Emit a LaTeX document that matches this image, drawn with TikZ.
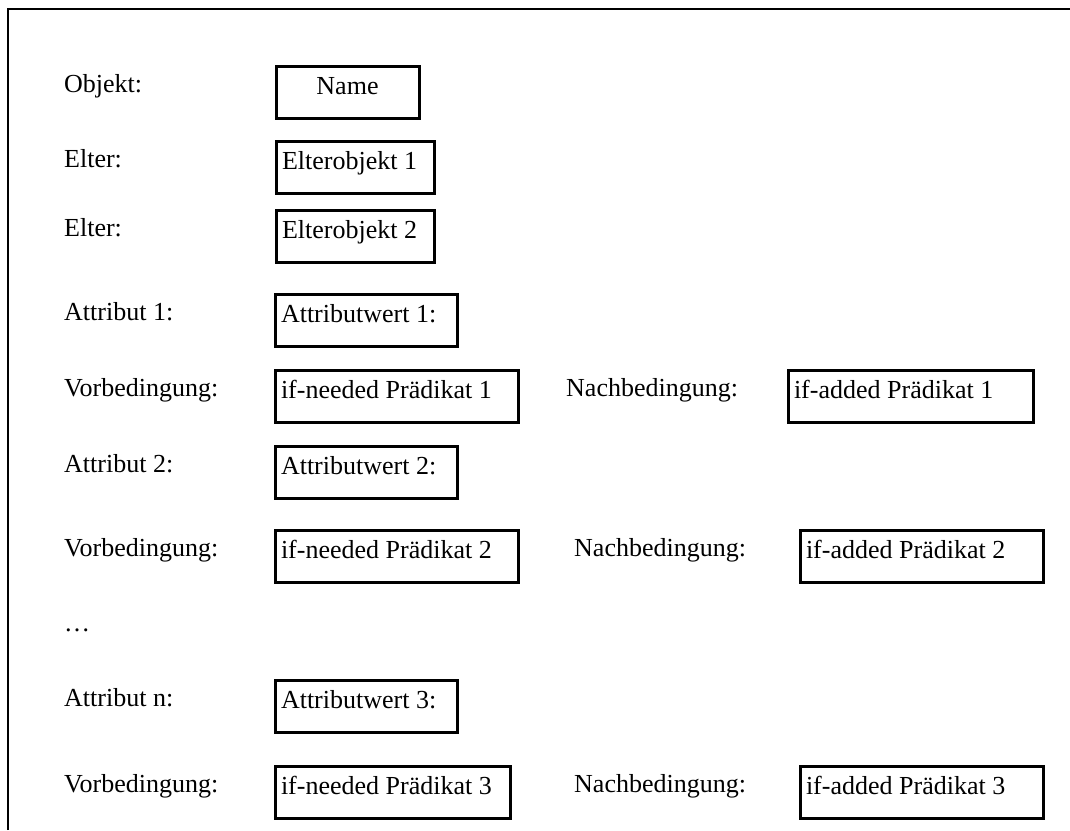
\documentclass[tikz,border=0pt]{standalone}
\usepackage{fontspec}
\setmainfont{Liberation Serif}
\begin{document}
\begin{tikzpicture}[x=1pt,y=-1pt,
  every node/.style={font=\fontsize{26}{30}\selectfont},
  lbl/.style={anchor=base west, inner sep=0pt},
  slot/.style={draw, line width=3pt, anchor=north west, inner xsep=6pt, inner ysep=0pt,
    minimum height=52pt, text height=18pt, text depth=12.6pt, align=flush left}]
\useasboundingbox (0,0) rectangle (1070,830);
% open frame: left and top edges only
\coordinate (frameBL) at (8,830);
\coordinate (frameTL) at (8,9);
\coordinate (frameTR) at (1070,9);
\draw[line width=2pt] (frameBL) -- (frameTL) -- (frameTR);

% object header
\node[lbl] (lObj) at (64,92) {Objekt:};
\node[slot, minimum width=143pt, align=center] (name) at (274.5,64.5) {Name};

% parents
\node[lbl] (lElt1) at (64,167) {Elter:};
\node[slot, text width=146pt] (elt1) at (274.5,139.5) {Elterobjekt 1};
\node[lbl] (lElt2) at (64,236) {Elter:};
\node[slot, text width=146pt] (elt2) at (274.5,208.5) {Elterobjekt 2};

% attribute 1
\node[lbl] (lAt1) at (64,320) {Attribut 1:};
\node[slot, text width=170pt] (aw1) at (273.5,292.5) {Attributwert 1:};
\node[lbl] (lVor1) at (64,396) {Vorbedingung:};
\node[slot, text width=231pt] (in1) at (273.5,368.5) {if-needed Prädikat 1};
\node[lbl] (lNach1) at (566,396) {Nachbedingung:};
\node[slot, text width=233pt] (ia1) at (786.5,368.5) {if-added Prädikat 1};

% attribute 2
\node[lbl] (lAt2) at (64,472) {Attribut 2:};
\node[slot, text width=170pt] (aw2) at (273.5,444.5) {Attributwert 2:};
\node[lbl] (lVor2) at (64,556) {Vorbedingung:};
\node[slot, text width=231pt] (in2) at (273.5,528.5) {if-needed Prädikat 2};
\node[lbl] (lNach2) at (574,556) {Nachbedingung:};
\node[slot, text width=231pt] (ia2) at (798.5,528.5) {if-added Prädikat 2};

\node[lbl] (dots) at (64,631) {\dots};

% attribute n
\node[lbl] (lAtn) at (64,706) {Attribut n:};
\node[slot, text width=170pt] (aw3) at (273.5,678.5) {Attributwert 3:};
\node[lbl] (lVor3) at (64,792) {Vorbedingung:};
\node[slot, text width=223pt] (in3) at (273.5,764.5) {if-needed Prädikat 3};
\node[lbl] (lNach3) at (574,792) {Nachbedingung:};
\node[slot, text width=231pt] (ia3) at (798.5,764.5) {if-added Prädikat 3};
\end{tikzpicture}
\end{document}
